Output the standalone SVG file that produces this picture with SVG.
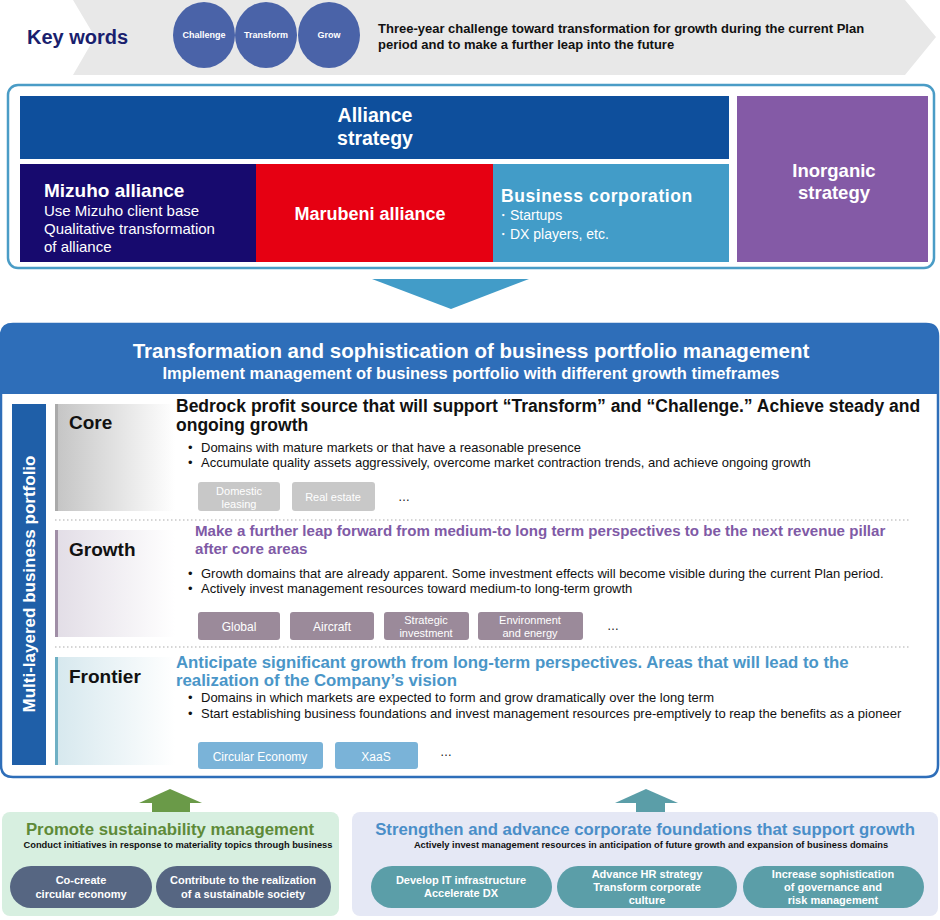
<svg xmlns="http://www.w3.org/2000/svg" width="940" height="920" viewBox="0 0 940 920">
<defs>
<style>
text{font-family:"Liberation Sans",Arial,sans-serif;}
.b{font-weight:bold;}
.w{fill:#fff;}
.circ{fill:#4a63a8;}
.ctx{font-size:9px;font-weight:bold;fill:#fff;text-anchor:middle;}
.bul{font-size:13px;fill:#111;}
.dot{stroke:#c8c8c8;stroke-width:1.5;stroke-dasharray:1.5 2.5;fill:none;}
.tag{font-size:12px;fill:#fff;text-anchor:middle;}
.tags{font-size:11px;fill:#fff;text-anchor:middle;}
.pill{font-size:11px;font-weight:bold;fill:#fff;text-anchor:middle;}
</style>
<linearGradient id="gCore" x1="0" x2="1" y1="0" y2="0"><stop offset="0" stop-color="#c4c4c4"/><stop offset="1" stop-color="#ffffff"/></linearGradient>
<linearGradient id="gGrowth" x1="0" x2="1" y1="0" y2="0"><stop offset="0" stop-color="#e2dde6"/><stop offset="1" stop-color="#ffffff"/></linearGradient>
<linearGradient id="gFront" x1="0" x2="1" y1="0" y2="0"><stop offset="0" stop-color="#d6e8ee"/><stop offset="1" stop-color="#ffffff"/></linearGradient>
</defs>

<g id="keywords">
<polygon points="73,0 905,0 936,37 905,75 73,75 95,37" fill="#e8e8e8"/>
<text x="27" y="44" class="b" font-size="20" fill="#1a1f6e">Key words</text>
<ellipse cx="204" cy="35" rx="31" ry="33" class="circ"/>
<ellipse cx="266" cy="35" rx="31" ry="33" class="circ"/>
<ellipse cx="329" cy="35" rx="31" ry="33" class="circ"/>
<text x="204" y="38" class="ctx">Challenge</text>
<text x="266" y="38" class="ctx">Transform</text>
<text x="329" y="38" class="ctx">Grow</text>
<text x="378" y="33" class="b" font-size="13" fill="#111">Three-year challenge toward transformation for growth during the current Plan</text>
<text x="378" y="49" class="b" font-size="13" fill="#111">period and to make a further leap into the future</text>
</g>

<g id="strategy-frame">
<rect x="8" y="85" width="926" height="183" rx="10" fill="#fff" stroke="#4a9cc6" stroke-width="2.5"/>
</g>
<g id="alliance">
<rect x="20" y="96" width="709" height="63" fill="#0e4f9c"/>
<text x="375" y="122" class="b w" font-size="19.5" text-anchor="middle">Alliance</text>
<text x="375" y="145" class="b w" font-size="19.5" text-anchor="middle">strategy</text>
</g>
<g id="mizuho">
<rect x="20" y="164" width="236" height="98" fill="#170a6e"/>
<text x="44" y="197" class="b w" font-size="19">Mizuho alliance</text>
<text x="44" y="216" class="w" font-size="15">Use Mizuho client base</text>
<text x="44" y="234" class="w" font-size="15">Qualitative transformation</text>
<text x="44" y="252" class="w" font-size="15">of alliance</text>
</g>
<g id="marubeni">
<rect x="256" y="164" width="237" height="98" fill="#e60012"/>
<text x="370" y="220" class="b w" font-size="18" text-anchor="middle">Marubeni alliance</text>
</g>
<g id="business">
<rect x="493" y="164" width="236" height="98" fill="#429cc8"/>
<text x="501" y="202" class="b w" font-size="17.5" letter-spacing="0.6">Business  corporation</text>
<text x="496" y="220" class="w" font-size="14">・Startups</text>
<text x="496" y="239" class="w" font-size="14">・DX players, etc.</text>
</g>
<g id="inorganic">
<rect x="737" y="96" width="191" height="166" fill="#845aa6"/>
<text x="834" y="177" class="b w" font-size="18.5" text-anchor="middle">Inorganic</text>
<text x="834" y="199" class="b w" font-size="18.5" text-anchor="middle">strategy</text>
</g>

<g id="connectors">
<polygon points="372,279 529,279 451,309" fill="#429cc8"/>
<rect x="152" y="802" width="38" height="11" fill="#6a9a48"/>
<polygon points="139,803 170,789 202,803" fill="#6a9a48"/>
<rect x="636" y="802" width="29" height="11" fill="#5b9ea8"/>
<polygon points="615,803 646,789 678,803" fill="#5b9ea8"/>
</g>

<g id="portfolio">
<path d="M13,324 H926 Q938,324 938,336 V765 Q938,777 926,777 H13 Q1,777 1,765 V336 Q1,324 13,324 Z" fill="#fff" stroke="#2e6eb9" stroke-width="2.5"/>
<path d="M13,324 H926 Q938,324 938,336 V394 H1 V336 Q1,324 13,324 Z" fill="#2e6eb9"/>
<text x="471" y="358" class="b w" font-size="20.5" text-anchor="middle">Transformation and sophistication of business portfolio management</text>
<text x="471" y="379" class="b w" font-size="16.5" text-anchor="middle">Implement management of business portfolio with different growth timeframes</text>
<rect x="12" y="404" width="34" height="361" fill="#1f5fa8"/>
<text transform="translate(35,584) rotate(-90)" class="b w" font-size="17" text-anchor="middle">Multi-layered business portfolio</text>
<line x1="55" y1="520" x2="910" y2="520" class="dot"/>
<line x1="55" y1="647" x2="910" y2="647" class="dot"/>
</g>

<g id="core">
<rect x="55" y="404" width="120" height="107" fill="url(#gCore)"/>
<rect x="55" y="404" width="3" height="107" fill="#aaaaaa"/>
<text x="69" y="429" class="b" font-size="19" fill="#111">Core</text>
<text x="176" y="412" class="b" font-size="17.5" fill="#111">Bedrock profit source that will support “Transform” and “Challenge.” Achieve steady and</text>
<text x="176" y="431" class="b" font-size="17.5" fill="#111">ongoing growth</text>
<text x="188" y="452" class="bul">•</text><text x="201" y="452" class="bul">Domains with mature markets or that have a reasonable presence</text>
<text x="188" y="467" class="bul">•</text><text x="201" y="467" class="bul">Accumulate quality assets aggressively, overcome market contraction trends, and achieve ongoing growth</text>
<rect x="198" y="482" width="82" height="29" rx="3" fill="#c8c8c8"/>
<text x="239" y="495" class="tags">Domestic</text>
<text x="239" y="508" class="tags">leasing</text>
<rect x="292" y="482" width="83" height="29" rx="3" fill="#c8c8c8"/>
<text x="333" y="501" class="tags">Real estate</text>
<text x="398" y="501" font-size="12" fill="#111">…</text>
</g>

<g id="growth">
<rect x="55" y="530" width="120" height="107" fill="url(#gGrowth)"/>
<rect x="55" y="530" width="3" height="107" fill="#a08ea6"/>
<text x="69" y="556" class="b" font-size="19" fill="#111">Growth</text>
<text x="195" y="536" class="b" font-size="15.1" fill="#7f5aa6">Make a further leap forward from medium-to long term perspectives to be the next revenue pillar</text>
<text x="195" y="554" class="b" font-size="15.1" fill="#7f5aa6">after core areas</text>
<text x="188" y="578" class="bul">•</text><text x="201" y="578" class="bul">Growth domains that are already apparent. Some investment effects will become visible during the current Plan period.</text>
<text x="188" y="593" class="bul">•</text><text x="201" y="593" class="bul">Actively invest management resources toward medium-to long-term growth</text>
<rect x="198" y="612" width="82" height="28" rx="3" fill="#9b8a9a"/>
<text x="239" y="631" class="tag">Global</text>
<rect x="290" y="612" width="84" height="28" rx="3" fill="#9b8a9a"/>
<text x="332" y="631" class="tag">Aircraft</text>
<rect x="384" y="612" width="85" height="28" rx="3" fill="#9b8a9a"/>
<text x="426" y="624" class="tags">Strategic</text>
<text x="426" y="637" class="tags">investment</text>
<rect x="478" y="612" width="105" height="28" rx="3" fill="#9b8a9a"/>
<text x="530" y="624" class="tags">Environment</text>
<text x="530" y="637" class="tags">and energy</text>
<text x="607" y="630" font-size="12" fill="#111">…</text>
</g>

<g id="frontier">
<rect x="55" y="657" width="120" height="108" fill="url(#gFront)"/>
<rect x="55" y="657" width="3" height="108" fill="#6fb0c4"/>
<text x="69" y="683" class="b" font-size="19" fill="#111">Frontier</text>
<text x="176" y="668" class="b" font-size="16.8" fill="#4a96c8">Anticipate significant growth from long-term perspectives. Areas that will lead to the</text>
<text x="176" y="686" class="b" font-size="16.8" fill="#4a96c8">realization of the Company’s vision</text>
<text x="188" y="702" class="bul">•</text><text x="201" y="702" class="bul">Domains in which markets are expected to form and grow dramatically over the long term</text>
<text x="188" y="718" class="bul">•</text><text x="201" y="718" class="bul">Start establishing business foundations and invest management resources pre-emptively to reap the benefits as a pioneer</text>
<rect x="198" y="742" width="125" height="27" rx="3" fill="#7ab3d8"/>
<text x="260" y="761" class="tag">Circular Economy</text>
<rect x="335" y="742" width="83" height="27" rx="3" fill="#7ab3d8"/>
<text x="376" y="761" class="tag">XaaS</text>
<text x="440" y="756" font-size="12" fill="#111">…</text>
</g>

<g id="sustainability">
<rect x="2" y="812" width="337" height="104" rx="8" fill="#d7efe0"/>
<text x="170" y="835" class="b" font-size="16.8" fill="#5e8a38" text-anchor="middle">Promote sustainability management</text>
<text x="178" y="848" class="b" font-size="9.3" fill="#111" text-anchor="middle">Conduct initiatives in response to materiality topics through business</text>
<rect x="10" y="866" width="142" height="42" rx="21" fill="#566682"/>
<text x="81" y="884" class="pill">Co-create</text>
<text x="81" y="898" class="pill">circular economy</text>
<rect x="156" y="866" width="175" height="42" rx="21" fill="#566682"/>
<text x="243" y="884" class="pill">Contribute to the realization</text>
<text x="243" y="898" class="pill">of a sustainable society</text>
</g>

<g id="foundations">
<rect x="352" y="812" width="586" height="104" rx="8" fill="#e5e8f5"/>
<text x="645" y="835" class="b" font-size="16.75" fill="#4a8ec8" text-anchor="middle">Strengthen and advance corporate foundations that support growth</text>
<text x="651" y="848" class="b" font-size="9.3" fill="#111" text-anchor="middle">Actively invest management resources in anticipation of future growth and expansion of business domains</text>
<rect x="371" y="866" width="181" height="42" rx="21" fill="#5b9ea8"/>
<text x="461" y="884" class="pill">Develop IT infrastructure</text>
<text x="461" y="897" class="pill">Accelerate DX</text>
<rect x="557" y="866" width="180" height="42" rx="21" fill="#5b9ea8"/>
<text x="647" y="878" class="pill">Advance HR strategy</text>
<text x="647" y="891" class="pill">Transform corporate</text>
<text x="647" y="904" class="pill">culture</text>
<rect x="743" y="866" width="181" height="42" rx="21" fill="#5b9ea8"/>
<text x="833" y="878" class="pill">Increase sophistication</text>
<text x="833" y="891" class="pill">of governance and</text>
<text x="833" y="904" class="pill">risk management</text>
</g>
</svg>
